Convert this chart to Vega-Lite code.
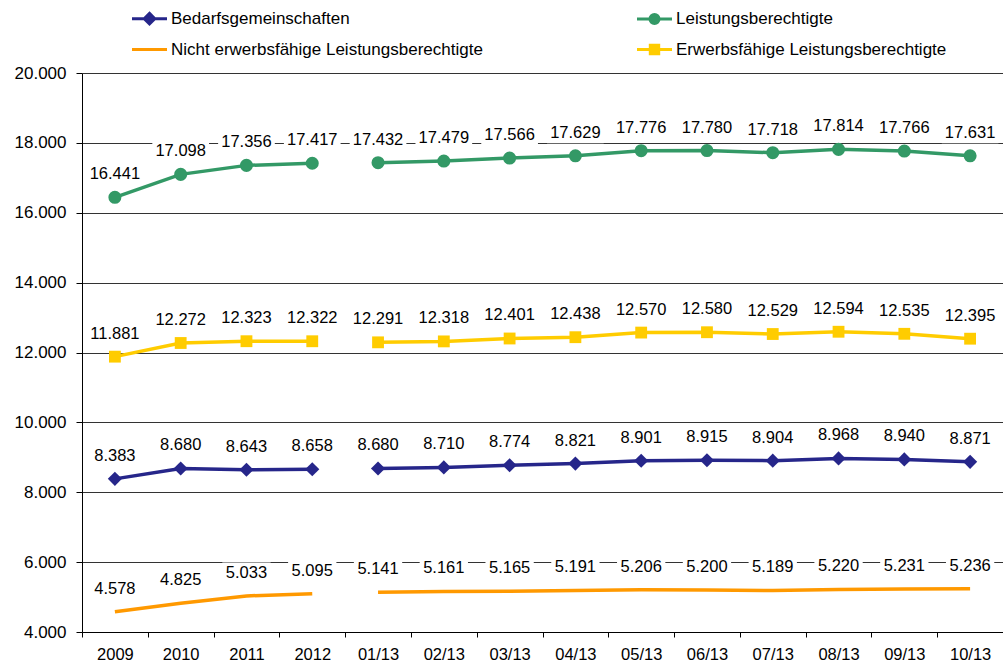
{
  "$schema": "https://vega.github.io/schema/vega-lite/v6.json",
  "width": 921,
  "height": 559,
  "autosize": {"type": "none"},
  "padding": {"left": 82, "top": 73, "right": 0, "bottom": 34},
  "background": "white",
  "config": {
    "font": "Liberation Sans",
    "view": {"stroke": null},
    "locale": {"number": {"decimal": ",", "thousands": ".", "grouping": [3], "currency": ["", " €"]}}
  },
  "data": {
    "values": [
      {"series": "Bedarfsgemeinschaften", "period": "2009", "segment": "Jahre", "value": 8383},
      {"series": "Bedarfsgemeinschaften", "period": "2010", "segment": "Jahre", "value": 8680},
      {"series": "Bedarfsgemeinschaften", "period": "2011", "segment": "Jahre", "value": 8643},
      {"series": "Bedarfsgemeinschaften", "period": "2012", "segment": "Jahre", "value": 8658},
      {"series": "Bedarfsgemeinschaften", "period": "01/13", "segment": "Monate", "value": 8680},
      {"series": "Bedarfsgemeinschaften", "period": "02/13", "segment": "Monate", "value": 8710},
      {"series": "Bedarfsgemeinschaften", "period": "03/13", "segment": "Monate", "value": 8774},
      {"series": "Bedarfsgemeinschaften", "period": "04/13", "segment": "Monate", "value": 8821},
      {"series": "Bedarfsgemeinschaften", "period": "05/13", "segment": "Monate", "value": 8901},
      {"series": "Bedarfsgemeinschaften", "period": "06/13", "segment": "Monate", "value": 8915},
      {"series": "Bedarfsgemeinschaften", "period": "07/13", "segment": "Monate", "value": 8904},
      {"series": "Bedarfsgemeinschaften", "period": "08/13", "segment": "Monate", "value": 8968},
      {"series": "Bedarfsgemeinschaften", "period": "09/13", "segment": "Monate", "value": 8940},
      {"series": "Bedarfsgemeinschaften", "period": "10/13", "segment": "Monate", "value": 8871},
      {"series": "Leistungsberechtigte", "period": "2009", "segment": "Jahre", "value": 16441},
      {"series": "Leistungsberechtigte", "period": "2010", "segment": "Jahre", "value": 17098},
      {"series": "Leistungsberechtigte", "period": "2011", "segment": "Jahre", "value": 17356},
      {"series": "Leistungsberechtigte", "period": "2012", "segment": "Jahre", "value": 17417},
      {"series": "Leistungsberechtigte", "period": "01/13", "segment": "Monate", "value": 17432},
      {"series": "Leistungsberechtigte", "period": "02/13", "segment": "Monate", "value": 17479},
      {"series": "Leistungsberechtigte", "period": "03/13", "segment": "Monate", "value": 17566},
      {"series": "Leistungsberechtigte", "period": "04/13", "segment": "Monate", "value": 17629},
      {"series": "Leistungsberechtigte", "period": "05/13", "segment": "Monate", "value": 17776},
      {"series": "Leistungsberechtigte", "period": "06/13", "segment": "Monate", "value": 17780},
      {"series": "Leistungsberechtigte", "period": "07/13", "segment": "Monate", "value": 17718},
      {"series": "Leistungsberechtigte", "period": "08/13", "segment": "Monate", "value": 17814},
      {"series": "Leistungsberechtigte", "period": "09/13", "segment": "Monate", "value": 17766},
      {"series": "Leistungsberechtigte", "period": "10/13", "segment": "Monate", "value": 17631},
      {"series": "Nicht erwerbsfähige Leistungsberechtigte", "period": "2009", "segment": "Jahre", "value": 4578},
      {"series": "Nicht erwerbsfähige Leistungsberechtigte", "period": "2010", "segment": "Jahre", "value": 4825},
      {"series": "Nicht erwerbsfähige Leistungsberechtigte", "period": "2011", "segment": "Jahre", "value": 5033},
      {"series": "Nicht erwerbsfähige Leistungsberechtigte", "period": "2012", "segment": "Jahre", "value": 5095},
      {"series": "Nicht erwerbsfähige Leistungsberechtigte", "period": "01/13", "segment": "Monate", "value": 5141},
      {"series": "Nicht erwerbsfähige Leistungsberechtigte", "period": "02/13", "segment": "Monate", "value": 5161},
      {"series": "Nicht erwerbsfähige Leistungsberechtigte", "period": "03/13", "segment": "Monate", "value": 5165},
      {"series": "Nicht erwerbsfähige Leistungsberechtigte", "period": "04/13", "segment": "Monate", "value": 5191},
      {"series": "Nicht erwerbsfähige Leistungsberechtigte", "period": "05/13", "segment": "Monate", "value": 5206},
      {"series": "Nicht erwerbsfähige Leistungsberechtigte", "period": "06/13", "segment": "Monate", "value": 5200},
      {"series": "Nicht erwerbsfähige Leistungsberechtigte", "period": "07/13", "segment": "Monate", "value": 5189},
      {"series": "Nicht erwerbsfähige Leistungsberechtigte", "period": "08/13", "segment": "Monate", "value": 5220},
      {"series": "Nicht erwerbsfähige Leistungsberechtigte", "period": "09/13", "segment": "Monate", "value": 5231},
      {"series": "Nicht erwerbsfähige Leistungsberechtigte", "period": "10/13", "segment": "Monate", "value": 5236},
      {"series": "Erwerbsfähige Leistungsberechtigte", "period": "2009", "segment": "Jahre", "value": 11881},
      {"series": "Erwerbsfähige Leistungsberechtigte", "period": "2010", "segment": "Jahre", "value": 12272},
      {"series": "Erwerbsfähige Leistungsberechtigte", "period": "2011", "segment": "Jahre", "value": 12323},
      {"series": "Erwerbsfähige Leistungsberechtigte", "period": "2012", "segment": "Jahre", "value": 12322},
      {"series": "Erwerbsfähige Leistungsberechtigte", "period": "01/13", "segment": "Monate", "value": 12291},
      {"series": "Erwerbsfähige Leistungsberechtigte", "period": "02/13", "segment": "Monate", "value": 12318},
      {"series": "Erwerbsfähige Leistungsberechtigte", "period": "03/13", "segment": "Monate", "value": 12401},
      {"series": "Erwerbsfähige Leistungsberechtigte", "period": "04/13", "segment": "Monate", "value": 12438},
      {"series": "Erwerbsfähige Leistungsberechtigte", "period": "05/13", "segment": "Monate", "value": 12570},
      {"series": "Erwerbsfähige Leistungsberechtigte", "period": "06/13", "segment": "Monate", "value": 12580},
      {"series": "Erwerbsfähige Leistungsberechtigte", "period": "07/13", "segment": "Monate", "value": 12529},
      {"series": "Erwerbsfähige Leistungsberechtigte", "period": "08/13", "segment": "Monate", "value": 12594},
      {"series": "Erwerbsfähige Leistungsberechtigte", "period": "09/13", "segment": "Monate", "value": 12535},
      {"series": "Erwerbsfähige Leistungsberechtigte", "period": "10/13", "segment": "Monate", "value": 12395}
    ]
  },
  "encoding": {
    "x": {
      "field": "period", "type": "ordinal",
      "sort": ["2009", "2010", "2011", "2012", "01/13", "02/13", "03/13", "04/13", "05/13", "06/13", "07/13", "08/13", "09/13", "10/13"],
      "scale": {"paddingInner": 0, "paddingOuter": 0},
      "axis": {
        "title": null, "labelAngle": 0, "labelFontSize": 16.5, "labelColor": "#000", "labelPadding": 9,
        "domainColor": "#000", "domainWidth": 1, "tickColor": "#000", "tickSize": 5, "tickBand": "extent", "grid": false
      }
    },
    "y": {
      "field": "value", "type": "quantitative",
      "scale": {"domain": [4000, 20000], "nice": false, "zero": false},
      "axis": {
        "title": null, "values": [4000, 6000, 8000, 10000, 12000, 14000, 16000, 18000, 20000],
        "format": ",.0f", "labelFontSize": 17, "labelColor": "#000", "labelPadding": 10,
        "domainColor": "#000", "domainWidth": 1, "tickColor": "#000", "tickSize": 6,
        "grid": true, "gridColor": "#333", "gridWidth": 1
      }
    }
  },
  "layer": [
    {
      "mark": {"type": "line", "strokeWidth": 3.5},
      "encoding": {
        "detail": {"field": "segment"},
        "color": {
          "field": "series", "type": "nominal",
          "scale": {
            "domain": ["Bedarfsgemeinschaften", "Nicht erwerbsfähige Leistungsberechtigte", "Leistungsberechtigte", "Erwerbsfähige Leistungsberechtigte"],
            "range": ["#26268a", "#FF9900", "#339966", "#FFCC00"]
          },
          "legend": {
            "title": null, "orient": "none", "legendX": 59, "legendY": -63, "columns": 2, "columnPadding": 148, "rowPadding": 9,
            "padding": 0, "symbolSize": 196, "symbolStrokeWidth": 3, "labelFontSize": 17, "labelOffset": 13, "labelColor": "#000", "labelLimit": 500,
            "encode": {
              "symbols": {
                "update": {
                  "shape": {"signal": "datum.value === 'Bedarfsgemeinschaften' ? 'M-2.5,0H2.5M0,-0.75L0.75,0L0,0.75L-0.75,0Z' : datum.value === 'Leistungsberechtigte' ? 'M-2.5,0H2.5M-0.65,0A0.65,0.65 0 1,0 0.65,0A0.65,0.65 0 1,0 -0.65,0Z' : datum.value === 'Erwerbsfähige Leistungsberechtigte' ? 'M-2.5,0H2.5M-0.6,-0.6H0.6V0.6H-0.6Z' : 'M-2.5,0H2.5'"},
                  "fill": {"signal": "scale('color', datum.value)"},
                  "stroke": {"signal": "scale('color', datum.value)"},
                  "strokeWidth": {"value": 3},
                  "opacity": {"value": 1}
                }
              }
            }
          }
        }
      }
    },
    {
      "transform": [{"filter": "datum.series !== 'Nicht erwerbsfähige Leistungsberechtigte'"}],
      "mark": {"type": "point", "filled": true, "opacity": 1},
      "encoding": {
        "color": {"field": "series", "type": "nominal"},
        "shape": {
          "field": "series", "type": "nominal",
          "scale": {"domain": ["Bedarfsgemeinschaften", "Leistungsberechtigte", "Erwerbsfähige Leistungsberechtigte"], "range": ["diamond", "circle", "square"]},
          "legend": null
        },
        "size": {
          "field": "series", "type": "nominal",
          "scale": {"domain": ["Bedarfsgemeinschaften", "Leistungsberechtigte", "Erwerbsfähige Leistungsberechtigte"], "range": [200, 140, 170]},
          "legend": null
        }
      }
    },
    {
      "mark": {"type": "point", "filled": true, "fill": "white", "stroke": null, "opacity": 1, "size": 441, "yOffset": -23},
      "encoding": {
        "shape": {
          "condition": {"test": "datum.value < 10000", "value": "M-2.3,-1H2.3V1H-2.3Z"},
          "value": "M-2.7,-1H2.7V1H-2.7Z"
        }
      }
    },
    {
      "mark": {"type": "text", "fontSize": 16.5, "color": "#000", "baseline": "middle", "dy": -23},
      "encoding": {
        "text": {"field": "value", "type": "quantitative", "format": ",.0f"}
      }
    }
  ]
}
